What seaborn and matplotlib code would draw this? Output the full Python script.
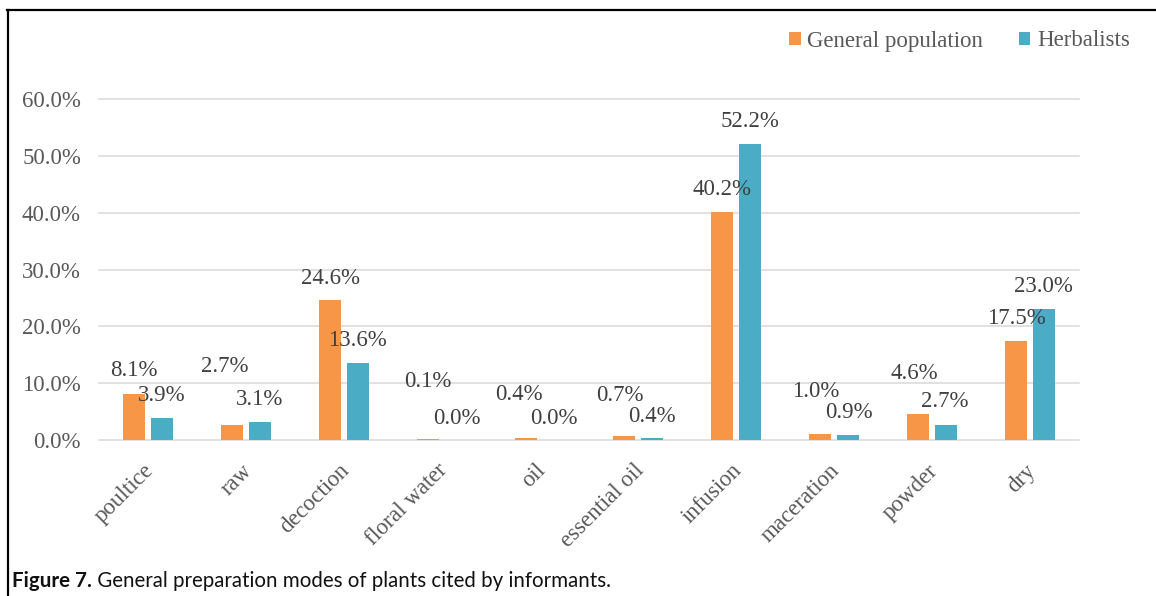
import matplotlib
matplotlib.use("Agg")
import matplotlib.pyplot as plt
from matplotlib.lines import Line2D
from matplotlib.transforms import ScaledTranslation
import seaborn as sns
import pandas as pd

# ---- data -------------------------------------------------------------
categories = ["poultice", "raw", "decoction", "floral water", "oil",
              "essential oil", "infusion", "maceration", "powder", "dry"]
general_population = [8.1, 2.7, 24.6, 0.1, 0.4, 0.7, 40.2, 1.0, 4.6, 17.5]
herbalists = [3.9, 3.1, 13.6, 0.0, 0.0, 0.4, 52.2, 0.9, 2.7, 23.0]
series_names = ["General population", "Herbalists"]
y_ticks = [0, 10, 20, 30, 40, 50, 60]
caption_bold = "Figure 7."
caption_text = " General preparation modes of plants cited by informants."

# ---- label placement (style, pixel offsets from bar tops) ------------
gp_label_offsets = [(0, 23), (-8, 58), (0, 22), (0, 58), (-7, 43),
                    (-4, 41), (0, 22), (-5, 43), (-4, 40), (0, 22)]
hb_label_offsets = [(0, 22), (0, 23), (0, 22), (1, 22), (0, 22),
                    (0, 21), (0, 22), (1, 22), (-1, 23), (0, 23)]

colors = ["#F79646", "#4BACC6"]
W, H = 1156, 596
serif = ["Liberation Serif", "DejaVu Serif"]
FS = 16.5

df = pd.DataFrame({
    "category": categories * 2,
    "value": general_population + herbalists,
    "series": [series_names[0]] * len(categories) + [series_names[1]] * len(categories),
})

fig = plt.figure(figsize=(W / 100, H / 100), dpi=100)
ax = fig.add_axes([99 / W, 1 - 440 / H, (1079 - 99) / W, (440 - 99.2) / H])

sns.barplot(data=df, x="category", y="value", hue="series", order=categories,
            hue_order=series_names, palette=colors, saturation=1,
            width=0.56, gap=0.2, errorbar=None, linewidth=0, ax=ax, legend=True)

ax.set_ylim(0, 60)
ax.set_xlim(-0.5, len(categories) - 0.5)
ax.set_yticks(y_ticks)
ax.set_yticklabels([f"{v:.1f}%" for v in y_ticks])
ax.set_xlabel("")
ax.set_ylabel("")
ax.yaxis.grid(True, color="#D9D9D9", linewidth=1.1)
for gl in ax.get_ygridlines():
    gl.set_clip_on(False)
ax.set_axisbelow(True)
for s in ax.spines.values():
    s.set_visible(False)
ax.tick_params(axis="y", length=0, pad=13, labelsize=FS, labelcolor="#595959")
ax.tick_params(axis="x", length=0, pad=8, labelsize=FS, labelcolor="#595959")
for t in ax.get_yticklabels():
    t.set_fontfamily(serif)
shift = ScaledTranslation(-5 / 100, -9 / 100, fig.dpi_scale_trans)
for t in ax.get_xticklabels():
    t.set_fontfamily(serif)
    t.set_rotation(45)
    t.set_ha("right")
    t.set_va("top")
    t.set_rotation_mode("anchor")
    t.set_transform(t.get_transform() + shift)

# data labels
for cont, vals, offs in zip(ax.containers, [general_population, herbalists],
                            [gp_label_offsets, hb_label_offsets]):
    for bar, v, (dx, dy) in zip(cont.patches, vals, offs):
        cx = bar.get_x() + bar.get_width() / 2
        ax.annotate(f"{v:.1f}%", xy=(cx, v), xytext=(dx, dy),
                    textcoords="offset pixels", ha="center", va="center",
                    fontsize=FS, color="#404040", family=serif,
                    annotation_clip=False)

# legend
handles, labels = ax.get_legend_handles_labels()
ax.get_legend().remove()
fig.legend(handles, labels, loc="center right",
           bbox_to_anchor=(1130 / W, 1 - 41 / H), ncol=2, frameon=False,
           prop={"family": serif, "size": FS}, labelcolor="#595959",
           handlelength=0.5, handleheight=0.5, handletextpad=0.3,
           columnspacing=1.55, borderpad=0, borderaxespad=0)

# frame lines
fig.add_artist(Line2D([7 / W, 1], [1 - 10 / H, 1 - 10 / H],
                      transform=fig.transFigure, color="black", linewidth=1.6))
fig.add_artist(Line2D([8 / W, 8 / W], [0, 1 - 10 / H],
                      transform=fig.transFigure, color="black", linewidth=1.6))

# caption
cap_font = ["Lato", "DejaVu Sans"]
t1 = fig.text(12 / W, 1 - 581 / H, caption_bold, fontsize=14.8, fontweight="bold",
              family=cap_font, va="center", ha="left", color="#111111")
fig.canvas.draw()
bb = t1.get_window_extent()
t2 = fig.text(bb.x1 / W, 1 - 581 / H, caption_text, fontsize=14.8,
              family=cap_font, va="center", ha="left", color="#111111")

fig.savefig("out.png", dpi=100)
